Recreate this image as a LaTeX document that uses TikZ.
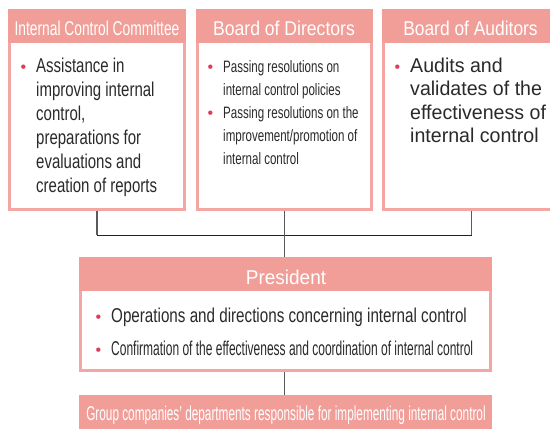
\documentclass[tikz,border=0pt]{standalone}
\usepackage{fontspec}
\setmainfont{Liberation Sans}
\newfontfamily\fICCh[FakeStretch=0.69]{Liberation Sans}
\newfontfamily\fBDh[FakeStretch=0.88]{Liberation Sans}
\newfontfamily\fBAh[FakeStretch=0.87]{Liberation Sans}
\newfontfamily\fPh[FakeStretch=0.95]{Liberation Sans}
\newfontfamily\fICCb[FakeStretch=0.75]{Liberation Sans}
\newfontfamily\fBDb[FakeStretch=0.70]{Liberation Sans}
\newfontfamily\fBAb[FakeStretch=0.98]{Liberation Sans}
\newfontfamily\fPa[FakeStretch=0.76]{Liberation Sans}
\newfontfamily\fPb[FakeStretch=0.60]{Liberation Sans}
\newfontfamily\fGr[FakeStretch=0.59]{Liberation Sans}
\newfontfamily\fBul{Liberation Sans}
\definecolor{hdr}{HTML}{F19E99}
\definecolor{frm}{HTML}{F3A6A2}
\definecolor{bul}{HTML}{E23A5C}
\definecolor{txt}{HTML}{2A2A2A}
\definecolor{lnv}{HTML}{5A5A5A}
\definecolor{lnh}{HTML}{222222}
\newlength\bulind \setlength\bulind{15.5pt}
\newcommand\bulmark{\makebox[\bulind][l]{\fBul\fontsize{16}{16}\selectfont\textcolor{bul}{\char"2022}}}
\newcommand\nl{\hfil\break}
\newcommand\itm[1]{\par\hangindent=\bulind\hangafter=1\noindent\bulmark#1}
\newcommand\bodyblock[2]{\vtop{\hsize=520pt\parindent=0pt\parskip=0pt\rightskip=0pt plus 1fil #1#2\par}}
\tikzset{
  frame/.style={draw=frm, line width=3pt, fill=white, inner sep=0pt},
  hdrbox/.style={fill=hdr, inner sep=0pt, outer sep=0pt, minimum height=34pt},
  hdrtext/.style={text=white, inner sep=0pt, anchor=base},
  bodytext/.style={text=txt, inner sep=0pt, anchor=base west},
  vconn/.style={draw=lnv, line width=1.2pt},
  hconn/.style={draw=lnh, line width=1pt},
}
\begin{document}
\begin{tikzpicture}[x=1pt, y=-1pt]
\useasboundingbox (0,0) rectangle (550,445);
\clip (0,0) rectangle (550,445);
\fill[white] (0,0) rectangle (550,445);

% top boxes
\node[frame, minimum width=175pt, minimum height=199pt] (icc) at (97,110) {};
\node[frame, minimum width=174pt, minimum height=199pt] (bd) at (284.5,110) {};
\node[frame, minimum width=176.5pt, minimum height=199pt] (ba) at (471.75,110) {};
\node[hdrbox, minimum width=178pt, anchor=north] (icch) at (icc.north) {};
\node[hdrbox, minimum width=177pt, anchor=north] (bdh) at (bd.north) {};
\node[hdrbox, minimum width=179.5pt, anchor=north] (bah) at (ba.north) {};
\node[hdrtext] (icct) at (97,35) {\fICCh\fontsize{20}{24}\selectfont Internal Control Committee};
\node[hdrtext] (bdt) at (284,35) {\fBDh\fontsize{20}{24}\selectfont Board of Directors};
\node[hdrtext] (bat) at (470.5,35) {\fBAh\fontsize{20}{24}\selectfont Board of Auditors};

\node[bodytext] (iccb) at (20.5,72) {\bodyblock{\fICCb\fontsize{20}{24}\selectfont}{%
  \itm{Assistance in\nl improving internal\nl control,\nl preparations for\nl evaluations and\nl creation of reports}}};
\node[bodytext] (bdb) at (207.5,72.5) {\bodyblock{\fBDb\fontsize{16.5}{23}\selectfont}{%
  \itm{Passing resolutions on\nl internal control policies}%
  \itm{Passing resolutions on the\nl improvement/promotion of\nl internal control}}};
\node[bodytext] (bab) at (394.5,72) {\bodyblock{\fBAb\fontsize{20}{23.5}\selectfont}{%
  \itm{Audits and\nl validates of the\nl effectiveness of\nl internal control}}};

% president
\node[frame, minimum width=410pt, minimum height=112pt] (pres) at (285.5,314.5) {};
\node[hdrbox, minimum width=413pt, anchor=north] (presh) at (pres.north) {};
\node[hdrtext] (prest) at (286,284) {\fPh\fontsize{20}{24}\selectfont President};
\node[bodytext] (pb1) at (95.5,322) {\bodyblock{\fPa\fontsize{20}{24}\selectfont}{%
  \itm{Operations and directions concerning internal control}}};
\node[bodytext] (pb2) at (95.5,355) {\bodyblock{\fPb\fontsize{20}{24}\selectfont}{%
  \itm{Confirmation of the effectiveness and coordination of internal control}}};

% group bar
\node[hdrbox, minimum width=413pt, anchor=north] (grp) at (285.5,395) {};
\node[hdrtext] (grpt) at (286,420) {\fGr\fontsize{20}{24}\selectfont Group companies’ departments responsible for implementing internal control};

% connectors
\coordinate (bus) at (284.5,235);
\draw[vconn] (icc.south) -- (icc.south |- bus);
\draw[vconn] (bd.south) -- (bd.south |- bus);
\draw[vconn] (ba.south) -- (ba.south |- bus);
\draw[hconn] (icc.south |- bus) -- (ba.south |- bus);
\draw[vconn] (bus) -- (bus |- pres.north);
\draw[vconn] (pres.south -| bus) -- (grp.north -| bus);
\end{tikzpicture}
\end{document}
